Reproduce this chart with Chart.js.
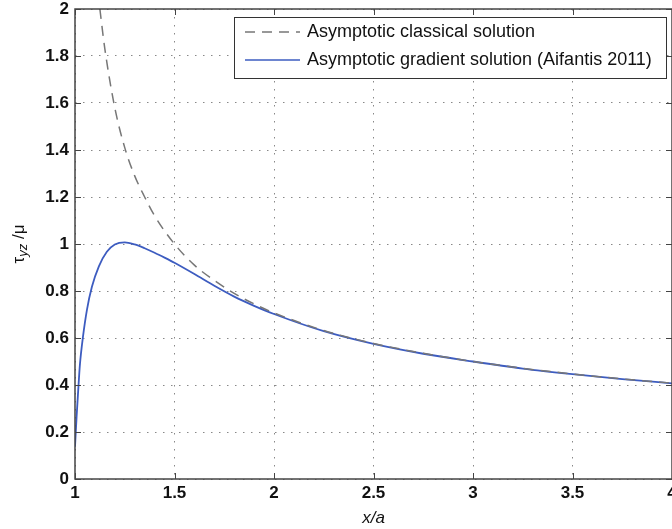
<!DOCTYPE html>
<html>
<head>
<meta charset="utf-8">
<script src="https://cdn.jsdelivr.net/npm/chart.js@4/dist/chart.umd.min.js"></script>
<style>
  html, body { margin: 0; padding: 0; background: #fff; overflow: hidden; }
  #wrap { position: relative; width: 672px; height: 529px; }
</style>
</head>
<body>
<div id="wrap"><canvas id="stressChart"></canvas></div>
<script>
// x positions (x/a) and values
const classicalX = [1.125, 1.15, 1.2, 1.25, 1.3, 1.35, 1.4, 1.5, 1.6, 1.7, 1.8, 1.9, 2.0, 2.25, 2.5, 2.75, 3.0, 3.25, 3.5, 3.75, 4.0];
const classicalY = [2.0, 1.83, 1.58, 1.41, 1.29, 1.2, 1.12, 1.0, 0.91, 0.845, 0.79, 0.745, 0.707, 0.632, 0.577, 0.535, 0.5, 0.471, 0.447, 0.426, 0.408];

const gradientX = [1.0, 1.008, 1.017, 1.025, 1.04, 1.06, 1.085, 1.12, 1.16, 1.2, 1.25, 1.3, 1.35, 1.4, 1.45, 1.5, 1.6, 1.7, 1.8, 1.9, 2.0, 2.25, 2.5, 2.75, 3.0, 3.25, 3.5, 3.75, 4.0];
const gradientY = [0.137, 0.265, 0.39, 0.49, 0.605, 0.72, 0.818, 0.905, 0.967, 0.998, 1.007, 0.998, 0.982, 0.963, 0.942, 0.92, 0.872, 0.822, 0.776, 0.737, 0.702, 0.629, 0.575, 0.533, 0.5, 0.47, 0.446, 0.425, 0.407];

const xTicks = [1, 1.5, 2, 2.5, 3, 3.5, 4];
const yTicks = [0, 0.2, 0.4, 0.6, 0.8, 1, 1.2, 1.4, 1.6, 1.8, 2];

const legendLabels = ['Asymptotic classical solution', 'Asymptotic gradient solution (Aifantis 2011)'];

const toPoints = (xs, ys) => xs.map((x, i) => ({ x, y: ys[i] }));

const fam = 'Liberation Sans, Arial, sans-serif';
const tickFont = { family: fam, size: 17, weight: 'bold' };

// MATLAB-like frame, inward ticks, legend box and axis titles
const matlabDecor = {
  id: 'matlabDecor',
  afterDatasetsDraw(chart) {
    const { ctx, chartArea: a, scales: { x, y } } = chart;
    ctx.save();
    ctx.strokeStyle = '#444';
    ctx.lineWidth = 1;
    xTicks.forEach(v => {
      const px = Math.round(x.getPixelForValue(v)) + 0.5;
      ctx.beginPath();
      ctx.moveTo(px, a.bottom); ctx.lineTo(px, a.bottom - 6);
      ctx.moveTo(px, a.top); ctx.lineTo(px, a.top + 6);
      ctx.stroke();
    });
    yTicks.forEach(v => {
      const py = Math.round(y.getPixelForValue(v)) + 0.5;
      ctx.beginPath();
      ctx.moveTo(a.left, py); ctx.lineTo(a.left + 6, py);
      ctx.moveTo(a.right, py); ctx.lineTo(a.right - 6, py);
      ctx.stroke();
    });
    ctx.lineWidth = 1.5;
    ctx.strokeRect(a.left, a.top, a.right - a.left, a.bottom - a.top);

    // legend
    const bx = 234, by = 17, bw = 432, bh = 61;
    ctx.fillStyle = '#fff';
    ctx.fillRect(bx, by, bw, bh);
    ctx.strokeStyle = '#333';
    ctx.lineWidth = 1;
    ctx.strokeRect(bx + 0.5, by + 0.5, bw, bh);
    const rows = [32, 60];
    ctx.lineWidth = 1.5;
    ctx.strokeStyle = '#777';
    ctx.setLineDash([10, 7]);
    ctx.beginPath(); ctx.moveTo(245, rows[0]); ctx.lineTo(300, rows[0]); ctx.stroke();
    ctx.setLineDash([]);
    ctx.strokeStyle = '#3d5cc0';
    ctx.beginPath(); ctx.moveTo(245, rows[1]); ctx.lineTo(300, rows[1]); ctx.stroke();
    ctx.fillStyle = '#111';
    ctx.font = '18px ' + fam;
    ctx.textBaseline = 'middle';
    ctx.textAlign = 'left';
    legendLabels.forEach((t, i) => ctx.fillText(t, 307, rows[i]));

    // x title
    ctx.font = 'italic 17px ' + fam;
    ctx.textAlign = 'center';
    ctx.fillText('x/a', (a.left + a.right) / 2, 518);

    // y title: tau_yz / mu
    ctx.translate(19, (a.top + a.bottom) / 2);
    ctx.rotate(-Math.PI / 2);
    ctx.textAlign = 'left';
    const f1 = '17px ' + fam;
    const f2 = 'italic 13px ' + fam;
    ctx.font = f1; const w1 = ctx.measureText('\u03c4').width;
    ctx.font = f2; const w2 = ctx.measureText('yz').width;
    ctx.font = f1; const w3 = ctx.measureText(' /\u03bc').width;
    let sx = -(w1 + w2 + w3) / 2;
    ctx.font = f1; ctx.fillText('\u03c4', sx, 0); sx += w1;
    ctx.font = f2; ctx.fillText('yz', sx, 4); sx += w2;
    ctx.font = f1; ctx.fillText(' /\u03bc', sx, 0);
    ctx.restore();
  }
};

new Chart(document.getElementById('stressChart'), {
  type: 'scatter',
  data: {
    datasets: [
      {
        label: legendLabels[0],
        data: toPoints(classicalX, classicalY),
        showLine: true,
        borderColor: '#777',
        borderWidth: 1.5,
        borderDash: [10, 7],
        pointRadius: 0,
        cubicInterpolationMode: 'monotone',
      },
      {
        label: legendLabels[1],
        data: toPoints(gradientX, gradientY),
        showLine: true,
        borderColor: '#3d5cc0',
        borderWidth: 1.8,
        pointRadius: 0,
        cubicInterpolationMode: 'monotone',
      },
    ]
  },
  options: {
    responsive: true,
    maintainAspectRatio: false,
    animation: false,
    layout: { padding: { top: 9, right: 0, left: 0, bottom: 0 } },
    plugins: { legend: { display: false }, tooltip: { enabled: false } },
    scales: {
      x: {
        type: 'linear',
        min: 1, max: 4,
        afterBuildTicks: s => { s.ticks = xTicks.map(v => ({ value: v })); },
        afterFit: s => { s.height = 50; s.paddingRight = 0; s.paddingLeft = 0; },
        ticks: { color: '#111', font: tickFont, padding: 4, maxRotation: 0, autoSkip: false, callback: v => String(v) },
        grid: { color: '#888', lineWidth: 1, drawTicks: false },
        border: { display: false, dash: [1.5, 6.5] },
      },
      y: {
        type: 'linear',
        min: 0, max: 2,
        afterBuildTicks: s => { s.ticks = yTicks.map(v => ({ value: v })); },
        afterFit: s => { s.width = 75; s.paddingTop = 0; s.paddingBottom = 0; },
        ticks: { color: '#111', font: tickFont, padding: 6, autoSkip: false, callback: v => String(+v.toFixed(1)) },
        grid: { color: '#888', lineWidth: 1, drawTicks: false },
        border: { display: false, dash: [1.5, 6.5] },
      }
    }
  },
  plugins: [matlabDecor]
});
</script>
</body>
</html>
